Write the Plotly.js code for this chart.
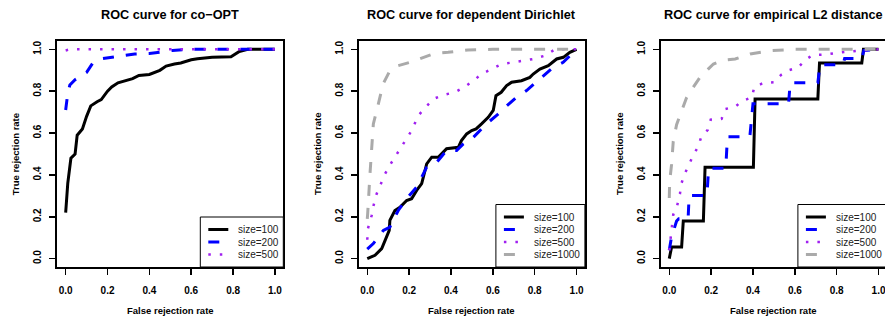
<!DOCTYPE html>
<html><head><meta charset="utf-8">
<script src="https://cdn.plot.ly/plotly-3.0.1.min.js"></script>
<style>html,body{margin:0;padding:0;overflow:hidden;background:#fff;width:885px;height:318px}#chart{width:905px;height:318px}</style>
</head><body><div id="chart"></div><script>
// ---- data ----
const panelTitles = ['ROC curve for co\u2212OPT', 'ROC curve for dependent Dirichlet', 'ROC curve for empirical L2 distance'];
const xTitle = 'False rejection rate';
const yTitle = 'True rejection rate';
const tickVals = [0, 0.2, 0.4, 0.6, 0.8, 1.0];
const tickLabels = ['0.0', '0.2', '0.4', '0.6', '0.8', '1.0'];
const sizeLabels = ['size=100', 'size=200', 'size=500', 'size=1000'];

// panel 1: co-OPT
const coopt100_x = [0, 0.01, 0.025, 0.045, 0.055, 0.08, 0.1, 0.12, 0.15, 0.17, 0.2, 0.22, 0.25, 0.28, 0.32, 0.35, 0.4, 0.45, 0.48, 0.52, 0.55, 0.6, 0.63, 0.7, 0.79, 0.83, 0.87, 1];
const coopt100_y = [0.22, 0.36, 0.48, 0.5, 0.59, 0.62, 0.68, 0.73, 0.75, 0.76, 0.8, 0.82, 0.84, 0.85, 0.86, 0.875, 0.88, 0.9, 0.92, 0.93, 0.935, 0.95, 0.955, 0.962, 0.965, 0.99, 1, 1];
const coopt200_x = [0, 0.01, 0.02, 0.045, 0.1, 0.13, 0.17, 0.22, 0.29, 0.33, 0.4, 0.51, 0.6, 1];
const coopt200_y = [0.71, 0.79, 0.83, 0.855, 0.89, 0.935, 0.955, 0.962, 0.97, 0.978, 0.98, 0.995, 1, 1];
const coopt500_x = [0, 0.02, 1];
const coopt500_y = [0.995, 1, 1];

// panel 2: dependent Dirichlet
const dir100_x = [0, 0.037, 0.069, 0.093, 0.105, 0.108, 0.132, 0.156, 0.188, 0.212, 0.236, 0.26, 0.284, 0.308, 0.34, 0.379, 0.435, 0.45, 0.475, 0.499, 0.52, 0.546, 0.578, 0.602, 0.615, 0.64, 0.666, 0.69, 0.737, 0.777, 0.793, 0.825, 0.865, 0.905, 0.937, 0.968, 1];
const dir100_y = [0, 0.016, 0.048, 0.103, 0.135, 0.183, 0.23, 0.245, 0.278, 0.286, 0.326, 0.358, 0.453, 0.485, 0.485, 0.525, 0.532, 0.564, 0.596, 0.612, 0.62, 0.644, 0.675, 0.708, 0.779, 0.795, 0.827, 0.843, 0.85, 0.866, 0.882, 0.906, 0.922, 0.954, 0.962, 0.986, 1];
const dir200_x = [0, 0.029, 0.077, 0.108, 0.148, 0.188, 0.236, 0.284, 0.332, 0.379, 0.427, 0.459, 0.507, 0.57, 0.618, 0.658, 0.713, 0.761, 0.825, 0.888, 0.936, 1];
const dir200_y = [0.045, 0.072, 0.135, 0.151, 0.23, 0.286, 0.342, 0.437, 0.461, 0.517, 0.517, 0.548, 0.58, 0.644, 0.684, 0.723, 0.771, 0.803, 0.859, 0.914, 0.938, 1];
const dir500_x = [0, 0.003, 0.021, 0.03, 0.045, 0.064, 0.085, 0.112, 0.148, 0.18, 0.212, 0.244, 0.28, 0.315, 0.363, 0.419, 0.467, 0.507, 0.546, 0.594, 0.642, 0.698, 0.745, 0.793, 0.849, 0.897, 1];
const dir500_y = [0.09, 0.143, 0.206, 0.254, 0.31, 0.358, 0.405, 0.453, 0.509, 0.557, 0.612, 0.684, 0.723, 0.763, 0.782, 0.795, 0.822, 0.85, 0.882, 0.906, 0.93, 0.938, 0.946, 0.954, 0.97, 1, 1];
const dir1000_x = [0, 0.002, 0.013, 0.029, 0.053, 0.076, 0.108, 0.148, 0.204, 0.26, 0.323, 0.386, 0.48, 0.6, 1];
const dir1000_y = [0.19, 0.215, 0.405, 0.644, 0.74, 0.835, 0.898, 0.922, 0.938, 0.959, 0.981, 0.986, 0.997, 1, 1];

// panel 3: empirical L2 distance
const l2_100_x = [0, 0.011, 0.059, 0.067, 0.163, 0.171, 0.402, 0.41, 0.71, 0.718, 0.92, 0.928, 1];
const l2_100_y = [0, 0.055, 0.055, 0.18, 0.18, 0.437, 0.437, 0.763, 0.763, 0.935, 0.935, 1, 1];
const l2_200_x = [0, 0.01, 0.035, 0.045, 0.09, 0.095, 0.18, 0.188, 0.27, 0.278, 0.385, 0.40, 0.57, 0.578, 0.71, 0.72, 0.83, 0.838, 0.92, 0.93, 1];
const l2_200_y = [0.04, 0.1, 0.18, 0.19, 0.19, 0.302, 0.302, 0.432, 0.432, 0.583, 0.583, 0.74, 0.74, 0.84, 0.84, 0.926, 0.926, 0.956, 0.956, 0.995, 1];
const l2_500_x = [0, 0.006, 0.014, 0.019, 0.038, 0.051, 0.059, 0.075, 0.096, 0.115, 0.139, 0.152, 0.184, 0.198, 0.25, 0.267, 0.315, 0.347, 0.395, 0.406, 0.45, 0.5, 0.534, 0.57, 0.617, 0.649, 0.686, 0.742, 0.798, 0.85, 0.905, 1];
const l2_500_y = [0.04, 0.095, 0.151, 0.21, 0.254, 0.31, 0.362, 0.408, 0.453, 0.496, 0.536, 0.58, 0.615, 0.664, 0.668, 0.715, 0.726, 0.752, 0.771, 0.819, 0.84, 0.843, 0.878, 0.9, 0.914, 0.949, 0.973, 0.975, 0.983, 0.99, 0.994, 1];
const l2_1000_x = [0, 0.002, 0.011, 0.019, 0.035, 0.059, 0.083, 0.115, 0.147, 0.187, 0.211, 0.259, 0.315, 0.387, 0.49, 0.6, 1];
const l2_1000_y = [0.29, 0.37, 0.45, 0.56, 0.64, 0.71, 0.77, 0.82, 0.867, 0.907, 0.93, 0.949, 0.954, 0.978, 0.994, 1, 1];

// ---- styles ----
const seriesColors = ['#000000', '#0000FF', '#A020F0', '#AAAAAA'];
const seriesDash = ['solid', '11px,12px', '2.5px,9px', '11px,12px'];
const seriesWidth = [3, 3, 2.5, 3];
const FONT = '"Liberation Sans", Arial, Helvetica, sans-serif';

const panels = [
  {xs: [coopt100_x, coopt200_x, coopt500_x], ys: [coopt100_y, coopt200_y, coopt500_y]},
  {xs: [dir100_x, dir200_x, dir500_x, dir1000_x], ys: [dir100_y, dir200_y, dir500_y, dir1000_y]},
  {xs: [l2_100_x, l2_200_x, l2_500_x, l2_1000_x], ys: [l2_100_y, l2_200_y, l2_500_y, l2_1000_y]}
];

const FIGW = 905, BOXW = 226, BOXH = 226;
const boxLeft = [57.3, 358.9, 660.9];
const legendW = [83, 89, 89];

const traces = [];
const layout = {
  width: FIGW, height: 318,
  margin: {l: 0, r: 0, t: 41, b: 51, pad: 0},
  paper_bgcolor: '#fff', plot_bgcolor: '#fff',
  showlegend: false,
  font: {family: FONT, color: '#000'},
  shapes: [], annotations: []
};

panels.forEach((p, k) => {
  const sfx = k === 0 ? '' : String(k + 1);
  const xa = 'xaxis' + sfx, ya = 'yaxis' + sfx;
  const xr = 'x' + sfx, yr = 'y' + sfx;
  const axCommon = {
    range: [-0.04, 1.04], showgrid: false, zeroline: false,
    showline: true, mirror: true, linecolor: '#000', linewidth: 2,
    ticks: 'outside', ticklen: 6, tickwidth: 1.5, tickcolor: '#000',
    tickmode: 'array', tickvals: tickVals, ticktext: tickLabels,
    tickfont: {family: FONT, size: 10, weight: 700, color: '#000'},
    fixedrange: true
  };
  layout[xa] = Object.assign({}, axCommon, {
    domain: [boxLeft[k] / FIGW, (boxLeft[k] + BOXW) / FIGW], anchor: yr, ticklabelstandoff: 7
  });
  layout[ya] = Object.assign({}, axCommon, {
    domain: [0, 1], anchor: xr, tickangle: -90, ticklabelstandoff: 4
  });

  p.xs.forEach((xv, i) => {
    traces.push({
      type: 'scatter', mode: 'lines', x: xv, y: p.ys[i], xaxis: xr, yaxis: yr,
      name: sizeLabels[i],
      line: {color: seriesColors[i], width: seriesWidth[i], dash: seriesDash[i]},
      hoverinfo: 'x+y+name'
    });
  });

  // panel title
  layout.annotations.push({
    xref: xr + ' domain', yref: yr + ' domain', x: 0.5, y: 1, yshift: 26, yanchor: 'middle', xanchor: 'center',
    text: '<b>' + panelTitles[k] + '</b>', showarrow: false,
    font: {family: FONT, size: 12.7, color: '#000'}
  });
  // axis titles
  layout.annotations.push({
    xref: xr + ' domain', yref: yr + ' domain', x: 0.5, y: 0, yshift: -43, yanchor: 'middle',
    text: '<b>' + xTitle + '</b>', showarrow: false,
    font: {family: FONT, size: 9.5, color: '#000'}
  });
  layout.annotations.push({
    xref: xr + ' domain', yref: yr + ' domain', x: 0, xshift: -42, y: 0.5, xanchor: 'center', yanchor: 'middle',
    textangle: -90, text: '<b>' + yTitle + '</b>', showarrow: false,
    font: {family: FONT, size: 9.5, color: '#000'}
  });

  // legend (R-style box, bottom-right)
  const n = p.xs.length;
  const rowH = 12.5;
  const H = rowH * (n + 1);
  const lLeft = (BOXW - legendW[k]) / BOXW;
  layout.shapes.push({
    type: 'rect', xref: xr + ' domain', yref: yr + ' domain', x0: lLeft, x1: 1, y0: 0, y1: H / BOXH,
    line: {color: '#000', width: 1}, fillcolor: '#fff', layer: 'above'
  });
  for (let i = 0; i < n; i++) {
    const yy = (H - rowH * (i + 1)) / BOXH;
    layout.shapes.push({
      type: 'line', xref: xr + ' domain', yref: yr + ' domain',
      x0: lLeft + 8 / BOXW, x1: lLeft + 28 / BOXW, y0: yy, y1: yy,
      line: {color: seriesColors[i], width: seriesWidth[i], dash: seriesDash[i]}, layer: 'above'
    });
    layout.annotations.push({
      xref: xr + ' domain', yref: yr + ' domain', x: lLeft + 36 / BOXW, y: yy,
      xanchor: 'left', yanchor: 'middle', text: sizeLabels[i], showarrow: false,
      font: {family: FONT, size: 10, color: '#222'}
    });
  }
});

Plotly.newPlot('chart', traces, layout, {displayModeBar: false, staticPlot: true});
</script></body></html>
